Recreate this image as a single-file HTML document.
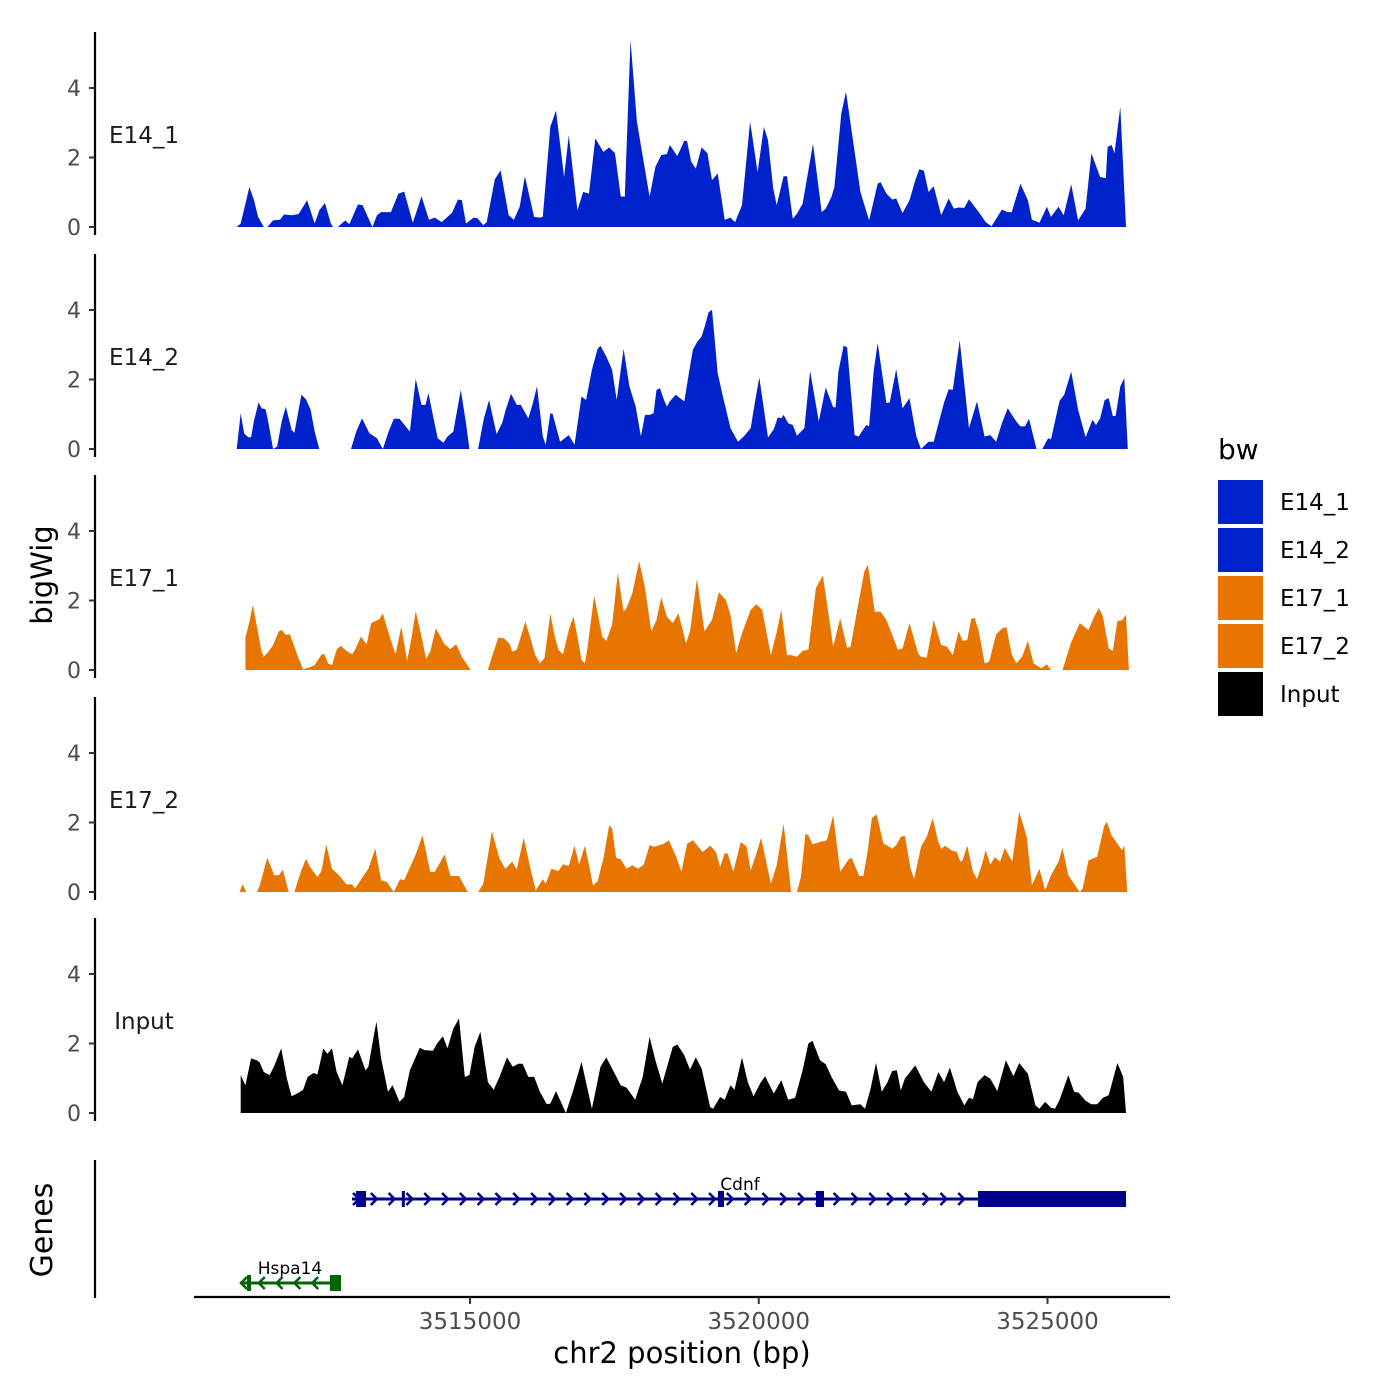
<!DOCTYPE html>
<html><head><meta charset="utf-8"><style>
body{margin:0;background:#fff}
svg{display:block;font-family:"DejaVu Sans","Liberation Sans",sans-serif}
</style></head><body>
<svg id="chart" width="1400" height="1400" viewBox="0 0 1400 1400" xmlns="http://www.w3.org/2000/svg">
<rect width="1400" height="1400" fill="#fff"/>
<g id="tracks"></g>
<g id="axes"></g>
<g id="genes"></g>
<g id="legend"></g>
</svg>
<script>
const regionStart = 3510810;
const trackNames = ["E14_1","E14_2","E17_1","E17_2","Input"];
const trackColors = ["#0022cc","#0022cc","#e87500","#e87500","#000000"];
const yTicks = [0,2,4];
const xTicks = [3515000,3520000,3525000];
const xTickLabels = ["3515000","3520000","3525000"];
// [offset from regionStart in bp, signal]
const e14_1 = [[150,0],[220,.1],[370,1.15],[450,.77],[520,.29],[620,0],[680,0],[780,.19],[900,.21],[970,.36],[1100,.34],[1220,.37],[1300,.58],[1370,.77],[1500,.1],[1580,.48],[1680,.69],[1780,.1],[1820,0],[1900,0],[2030,.19],[2100,.08],[2250,.65],[2330,.63],[2420,.29],[2500,0],[2580,.34],[2650,.43],[2820,.43],[2950,.96],[3050,1.02],[3200,.12],[3350,.88],[3480,.21],[3580,.27],[3700,.14],[3800,.29],[3880,.41],[3980,.79],[4050,.77],[4120,.1],[4250,.27],[4320,.25],[4420,.05],[4480,.14],[4620,1.37],[4720,1.63],[4860,.34],[4950,.21],[5050,.58],[5140,1.46],[5300,.29],[5400,.27],[5450,.29],[5580,2.88],[5680,3.35],[5820,1.44],[5900,2.64],[6050,.48],[6150,1.01],[6250,.96],[6360,2.55],[6500,2.16],[6600,2.29],[6700,2.12],[6800,.88],[6870,.87],[6970,5.38],[7080,3.03],[7300,.87],[7400,1.73],[7500,2.07],[7600,2.1],[7650,2.36],[7780,2.04],[7900,2.48],[7950,2.47],[8020,1.88],[8100,1.68],[8200,2.29],[8300,2.12],[8380,1.35],[8480,1.54],[8600,.21],[8700,.27],[8780,.14],[8900,.63],[9040,3.03],[9170,1.58],[9280,2.88],[9350,2.5],[9440,1.11],[9500,.63],[9620,1.46],[9680,1.46],[9780,.24],[9850,.38],[9950,.67],[10130,2.4],[10280,.43],[10350,.53],[10450,.87],[10500,1.15],[10620,3.27],[10700,3.89],[10950,1.01],[11100,.19],[11250,1.25],[11300,1.29],[11400,.96],[11500,.79],[11570,.82],[11680,.4],[11800,.77],[11900,1.35],[11970,1.66],[12050,1.62],[12130,1.01],[12220,1.17],[12350,.34],[12480,.82],[12570,.53],[12650,.56],[12750,.55],[12830,.8],[13000,.43],[13120,.14],[13220,.02],[13400,.5],[13500,.43],[13570,.43],[13720,1.25],[13850,.77],[13920,.21],[14000,.16],[14050,.12],[14180,.58],[14250,.29],[14380,.58],[14470,.34],[14600,1.23],[14720,.19],[14850,.53],[14950,2.12],[15100,1.44],[15200,1.4],[15230,2.31],[15300,2.36],[15350,2.12],[15450,3.46],[15550,0]];
const e14_2 = [[150,0],[220,1.03],[280,.45],[350,.34],[400,.34],[450,.82],[530,1.34],[580,1.17],[650,1.14],[700,.74],[780,0],[850,.07],[930,.79],[1000,1.22],[1100,.55],[1150,.47],[1270,1.56],[1350,1.43],[1430,1.13],[1500,.5],[1580,0],[2130,0],[2220,.5],[2320,.88],[2450,.45],[2580,.31],[2680,0],[2780,.5],[2870,.87],[2970,.87],[3100,.6],[3150,.5],[3250,2.02],[3350,1.27],[3420,1.27],[3470,1.61],[3570,.79],[3630,.31],[3730,.18],[3800,.36],[3900,.5],[4030,1.7],[4120,.74],[4180,0],[4330,0],[4430,.88],[4520,1.41],[4650,.43],[4750,.76],[4800,1.08],[4900,1.59],[5000,1.27],[5070,1.27],[5200,.88],[5270,1.27],[5350,1.8],[5450,.36],[5500,.12],[5580,1.03],[5620,1.01],[5750,.21],[5900,.4],[6000,.12],[6120,1.51],[6200,1.41],[6300,2.28],[6400,2.88],[6450,2.97],[6550,2.66],[6650,2.28],[6730,1.41],[6850,2.88],[6950,1.8],[7060,1.22],[7150,.36],[7220,.98],[7300,.98],[7370,1.03],[7420,1.7],[7480,1.75],[7550,1.41],[7600,1.22],[7650,1.37],[7750,1.56],[7900,1.37],[8000,2.38],[8050,2.86],[8120,3.07],[8200,3.24],[8260,3.55],[8320,3.93],[8380,4.01],[8480,2.18],[8570,1.51],[8700,.6],[8830,.21],[8930,.36],[9050,.6],[9130,1.41],[9200,2.06],[9350,.33],[9450,.57],[9520,.91],[9580,.88],[9620,.98],[9700,.74],[9780,.69],[9850,.38],[9980,.6],[10080,2.25],[10230,.79],[10350,1.77],[10480,1.2],[10520,1.2],[10570,2.23],[10660,2.97],[10720,2.93],[10850,.4],[10920,.36],[11050,.69],[11100,.65],[11180,2.25],[11250,3.05],[11400,1.32],[11460,1.34],[11570,2.3],[11680,1.17],[11800,1.46],[11920,.36],[12000,0],[12130,.21],[12220,.21],[12400,1.34],[12480,1.72],[12550,1.7],[12670,3.13],[12830,.6],[12970,1.37],[13100,.36],[13200,.4],[13300,.21],[13400,.74],[13500,1.17],[13650,.79],[13720,.65],[13800,.65],[13870,.87],[14000,0],[14100,0],[14200,.31],[14250,.28],[14400,1.39],[14480,1.56],[14600,2.23],[14720,1.13],[14850,.34],[14970,.84],[15030,.69],[15100,.88],[15180,1.41],[15250,1.46],[15320,.95],[15370,.95],[15450,1.8],[15520,2.04],[15580,0]];
const e17_1 = [[300,0],[300,.93],[370,1.39],[430,1.88],[500,1.25],[580,.53],[620,.38],[700,.53],[780,.72],[880,1.11],[930,1.15],[1000,1.01],[1070,1.03],[1150,.67],[1220,.34],[1300,.02],[1400,.07],[1500,.14],[1620,.45],[1670,.45],[1730,.19],[1800,.14],[1880,.58],[1950,.7],[2050,.55],[2150,.45],[2200,.58],[2300,.96],[2400,.74],[2480,1.35],[2620,1.46],[2680,1.63],[2800,.96],[2900,.45],[3000,1.25],[3100,.26],[3180,.96],[3250,1.7],[3350,.96],[3430,.32],[3500,.53],[3600,1.2],[3750,.74],[3850,.6],[3950,.74],[4050,.38],[4200,0],[4500,0],[4580,.43],[4680,.93],[4780,.91],[4880,.74],[4920,.53],[5000,.58],[5150,1.39],[5250,.84],[5320,.43],[5400,.19],[5480,.34],[5580,1.63],[5650,1.03],[5720,.58],[5800,.45],[5900,1.15],[5980,1.54],[6050,.96],[6120,.29],[6180,.19],[6220,.58],[6340,2.14],[6480,.96],[6550,.84],[6650,1.3],[6750,2.79],[6850,1.68],[6900,1.78],[7000,2.21],[7120,3.13],[7220,2.36],[7330,1.11],[7420,1.44],[7500,2.09],[7600,1.54],[7700,1.35],[7800,1.63],[7930,.77],[8000,1.11],[8120,2.63],[8250,1.11],[8380,1.44],[8500,2.24],[8620,2.02],[8700,1.59],[8800,.48],[8900,1.06],[9050,1.73],[9150,1.89],[9250,1.73],[9400,.43],[9500,1.09],[9580,1.73],[9680,.43],[9750,.43],[9850,.38],[9950,.55],[10050,.58],[10180,2.36],[10300,2.72],[10480,.67],[10600,1.49],[10720,.64],[10780,.67],[10900,1.78],[11020,2.84],[11080,3.03],[11200,1.68],[11300,1.68],[11400,1.44],[11500,1.01],[11600,.58],[11680,.62],[11800,1.35],[11950,.48],[12000,.38],[12100,.36],[12220,1.44],[12350,.72],[12450,.67],[12550,.43],[12650,1.11],[12720,.84],[12800,.86],[12870,1.47],[12930,1.5],[13000,1.11],[13100,.19],[13180,.24],[13300,1.03],[13420,1.22],[13480,1.22],[13570,.45],[13650,.19],[13750,.38],[13850,.84],[13950,.19],[14080,.05],[14180,.16],[14250,0],[14450,0],[14600,.8],[14750,1.35],[14900,1.15],[15000,1.54],[15080,1.78],[15150,1.54],[15250,.62],[15320,.55],[15400,1.41],[15480,1.43],[15550,1.59],[15600,0]];
const e17_2 = [[200,0],[250,.22],[320,0],[500,0],[550,.19],[680,.99],[800,.48],[880,.48],[950,.64],[1050,0],[1150,0],[1250,.53],[1350,.96],[1420,.72],[1550,.43],[1620,.62],[1700,1.37],[1800,.67],[1920,.48],[2050,.22],[2150,.22],[2200,.1],[2330,.43],[2430,.67],[2550,1.25],[2650,.34],[2750,.29],[2870,0],[2980,.37],[3050,.34],[3180,.82],[3250,1.08],[3370,1.63],[3500,.58],[3580,.58],[3680,.87],[3750,1.08],[3850,.46],[4000,.46],[4150,0],[4330,0],[4420,.24],[4570,1.75],[4700,.96],[4800,.67],[4920,.87],[5000,.65],[5120,1.56],[5250,.58],[5330,.05],[5450,.37],[5500,.24],[5600,.67],[5720,.6],[5800,.79],[5900,.75],[6000,1.33],[6080,.79],[6180,1.33],[6250,.77],[6320,.19],[6400,.31],[6500,.96],[6600,1.92],[6650,1.83],[6720,.98],[6800,.94],[6900,.67],[7000,.77],[7100,.67],[7200,.79],[7300,1.35],[7380,1.3],[7480,1.35],[7550,1.39],[7630,1.49],[7750,1.06],[7850,.58],[7950,1.39],[8050,1.49],[8220,1.15],[8350,1.33],[8450,1.15],[8520,.72],[8600,1.11],[8650,1.11],[8750,.58],[8880,1.44],[8980,1.3],[9050,.62],[9150,1.11],[9230,1.56],[9400,.24],[9500,.77],[9620,1.97],[9750,0],[9850,0],[9920,.43],[10000,1.68],[10050,1.63],[10120,1.37],[10250,1.44],[10370,1.49],[10480,2.21],[10600,.58],[10750,.94],[10800,.98],[10930,.46],[11000,.46],[11070,1.11],[11150,2.13],[11230,2.23],[11350,1.39],[11400,1.35],[11500,1.25],[11570,1.35],[11650,1.59],[11720,1.62],[11820,.67],[11880,.37],[12000,1.3],[12100,1.59],[12200,2.12],[12300,1.44],[12350,1.25],[12420,1.33],[12520,1.2],[12620,1.15],[12680,.87],[12720,.91],[12800,1.33],[12900,.58],[12970,.37],[13050,.77],[13120,1.2],[13200,.79],[13280,1],[13370,.87],[13450,1.27],[13580,.87],[13700,2.31],[13830,1.59],[13920,.19],[14050,.67],[14150,.05],[14250,.48],[14380,.87],[14450,1.27],[14550,.48],[14670,.19],[14750,0],[14800,.1],[14900,.91],[15000,.98],[15050,1.01],[15170,1.9],[15220,2.02],[15300,1.63],[15400,1.39],[15480,1.2],[15520,1.35],[15570,0]];
const input = [[220,0],[220,1.09],[300,.8],[400,1.57],[500,1.52],[550,1.45],[620,1.18],[720,1.09],[800,1.35],[920,1.86],[1020,.99],[1100,.48],[1200,.56],[1300,.67],[1380,1.04],[1480,1.15],[1550,1.11],[1650,1.86],[1720,1.7],[1800,1.86],[1880,1.18],[1980,.8],[2100,1.62],[2150,1.57],[2250,1.83],[2380,1.23],[2430,1.33],[2500,2],[2570,2.63],[2650,1.57],[2770,.61],[2850,.8],[2970,.32],[3050,.46],[3150,1.23],[3320,1.88],[3400,1.81],[3550,1.79],[3620,2],[3720,2.21],[3800,1.86],[3900,2.43],[4000,2.72],[4100,1.04],[4180,1.09],[4270,1.9],[4370,2.34],[4500,.89],[4600,.67],[4700,1.04],[4830,1.6],[4930,1.33],[5030,1.42],[5100,1.42],[5200,1.04],[5300,1.04],[5400,.61],[5520,.25],[5580,.27],[5680,.63],[5750,.37],[5850,0],[5980,.67],[6120,1.47],[6300,.12],[6450,1.33],[6550,1.6],[6650,1.28],[6800,.8],[6900,.73],[7050,.38],[7180,1.04],[7300,2.19],[7400,1.52],[7520,.85],[7700,1.9],[7780,1.97],[7900,1.66],[8000,1.25],[8100,1.6],[8200,1.28],[8350,.17],[8400,.12],[8520,.46],[8600,.38],[8700,.8],[8770,.67],[8900,1.6],[9000,.89],[9100,.48],[9220,.87],[9300,1.06],[9450,.56],[9580,.94],[9700,.38],[9820,.44],[9950,1.23],[10050,2],[10120,2.08],[10250,1.52],[10350,1.4],[10450,1.04],[10580,.65],[10700,.61],[10800,.22],[10950,.25],[11030,.12],[11120,.65],[11220,1.44],[11320,.61],[11420,.89],[11500,1.21],[11580,1.23],[11650,.65],[11720,.99],[11900,1.37],[12050,.89],[12180,.61],[12300,1.18],[12400,.89],[12500,1.31],[12630,.61],[12750,.22],[12830,.44],[12900,.4],[12980,.89],[13100,1.09],[13200,.99],[13320,.63],[13470,1.52],[13600,1.06],[13700,1.44],[13850,1.13],[13980,.22],[14050,.12],[14150,.32],[14250,.15],[14320,.12],[14400,.38],[14550,1.09],[14650,.61],[14730,.58],[14850,.35],[14950,.25],[15050,.25],[15150,.44],[15250,.51],[15400,1.44],[15500,1.04],[15550,0]];
const trackData = [e14_1,e14_2,e17_1,e17_2,input];
// genes
const cdnfStart = 3512957, cdnfEnd = 3526359, cdnfCdsEnd = 3523797;
const cdnfExons = [[3513026,3513199],[3513820,3513860],[3519294,3519398],[3520991,3521130]];
const hspaStart = 3511017, hspaEnd = 3512766;
const hspaExons = [[3511139,3511208],[3512576,3512766]];
const legendLabels = ["E14_1","E14_2","E17_1","E17_2","Input"];
const legendColors = ["#0022cc","#0022cc","#e87500","#e87500","#000000"];

const NS="http://www.w3.org/2000/svg";
function mk(tag, attrs, parent){const e=document.createElementNS(NS,tag);for(const k in attrs)e.setAttribute(k,attrs[k]);parent.appendChild(e);return e;}
const xScale = bp => 470 + (bp-3515000)/1000*57.75;
const baselines = [227,449,670,892,1113];
const unit = 34.75;
const yScale = (v,i) => baselines[i] - v*unit;

const gT=document.getElementById('tracks'), gA=document.getElementById('axes'), gG=document.getElementById('genes'), gL=document.getElementById('legend');

trackData.forEach((d,i)=>{
  let path = `M${xScale(regionStart+d[0][0]).toFixed(1)},${baselines[i]}`;
  d.forEach(p=>{path += `L${xScale(regionStart+p[0]).toFixed(1)},${yScale(p[1],i).toFixed(1)}`;});
  path += `L${xScale(regionStart+d[d.length-1][0]).toFixed(1)},${baselines[i]}Z`;
  const a = mk('path',{d:path,fill:trackColors[i]},gT);
  
  
  const top = baselines[i]-195, bot = baselines[i]+8;
  const ax = mk('line',{x1:95,x2:95,y1:top,y2:bot,stroke:'#000','stroke-width':2.2},gA);
  
  
  yTicks.forEach(t=>{
    const y=yScale(t,i);
    const tk=mk('line',{x1:89,x2:95,y1:y,y2:y,stroke:'#333','stroke-width':2},gA);
    
    
    const tl=mk('text',{x:81,y:y+8,'text-anchor':'end','font-size':22,fill:'#4d4d4d'},gA);
    tl.textContent=t;
    
    
  });
  const lab=mk('text',{x:144,y:baselines[i]-84,'text-anchor':'middle','font-size':23,fill:'#1a1a1a'},gA);
  lab.textContent=trackNames[i];
  
  
});

const yt=mk('text',{x:0,y:0,transform:'translate(52,575) rotate(-90)','text-anchor':'middle','font-size':29,fill:'#000'},gA);
yt.textContent='bigWig';


const gt=mk('text',{x:0,y:0,transform:'translate(52,1230) rotate(-90)','text-anchor':'middle','font-size':30,fill:'#000'},gA);
gt.textContent='Genes';


const gax=mk('line',{x1:95,x2:95,y1:1160,y2:1298,stroke:'#000','stroke-width':2.2},gA);


const xl=mk('line',{x1:194,x2:1170,y1:1297,y2:1297,stroke:'#000','stroke-width':2.2},gA);


xTicks.forEach((t,k)=>{
  const x=xScale(t);
  const tk=mk('line',{x1:x,x2:x,y1:1297,y2:1304,stroke:'#333','stroke-width':2},gA);
  
  
  const tl=mk('text',{x:x,y:1329,'text-anchor':'middle','font-size':23,fill:'#4d4d4d'},gA);
  tl.textContent=xTickLabels[k];
  
  
});
const xt=mk('text',{x:682,y:1363,'text-anchor':'middle','font-size':29,fill:'#000'},gA);
xt.textContent='chr2 position (bp)';



function drawGene(start,end,y,color,exons,thickStart,dir,label,labelX,name){
  const g=mk('g',{},gG);
  
  
  mk('line',{x1:xScale(start),x2:xScale(end),y1:y,y2:y,stroke:color,'stroke-width':3},g);
  const xs=xScale(start), xe=xScale(thickStart||end);
  for(let x=xs+4;x<xe-4;x+=17.8){
    const p = dir>0 ? `M${x-3},${y-6}L${x+3},${y}L${x-3},${y+6}` : `M${x+3},${y-6}L${x-3},${y}L${x+3},${y+6}`;
    mk('path',{d:p,fill:'none',stroke:color,'stroke-width':2.5},g);
  }
  exons.forEach(e=>{mk('rect',{x:xScale(e[0]),y:y-8,width:Math.max(3,xScale(e[1])-xScale(e[0])),height:16,fill:color},g);});
  if(thickStart) mk('rect',{x:xScale(thickStart),y:y-8,width:xScale(end)-xScale(thickStart),height:16,fill:color},g);
  const t=mk('text',{x:labelX,y:y-9,'text-anchor':'middle','font-size':17,fill:'#000'},g);
  t.textContent=label;
}
drawGene(cdnfStart,cdnfEnd,1199,'#00008b',cdnfExons,cdnfCdsEnd,1,'Cdnf',740,'gene-cdnf');
drawGene(hspaStart,hspaEnd,1283,'#006400',hspaExons,null,-1,'Hspa14',290,'gene-hspa14');

const lt=mk('text',{x:1218,y:459,'font-size':28,fill:'#000'},gL);
lt.textContent='bw';


legendLabels.forEach((l,k)=>{
  const y=480+k*48;
  const r=mk('rect',{x:1218,y:y,width:45,height:44,fill:legendColors[k]},gL);
  
  
  const t=mk('text',{x:1280,y:y+30,'font-size':23,fill:'#000'},gL);
  t.textContent=l;
  
  
});
</script>
</body></html>
